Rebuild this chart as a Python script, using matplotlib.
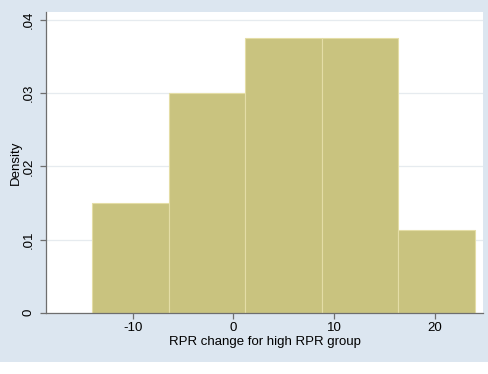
import matplotlib.pyplot as plt
from matplotlib.patches import Rectangle

plt.rcParams["font.family"] = ["Liberation Sans", "DejaVu Sans"]

# histogram: bin edges and density heights
bin_edges = [-14.0, -6.4, 1.2, 8.8, 16.4, 24.0]
densities = [0.01504, 0.03008, 0.03759, 0.03759, 0.01128]
x_ticks = [-10, 0, 10, 20]
y_ticks = [0, 0.01, 0.02, 0.03, 0.04]
y_tick_labels = ["0", ".01", ".02", ".03", ".04"]

BG = "#DCE6F0"
BAR = "#C9C37F"
EDGE = "#E4DDA6"

fig = plt.figure(figsize=(4.88, 3.74), dpi=100, facecolor="white")
fig.patches.append(Rectangle((0, 12 / 374), 1, 362 / 374, transform=fig.transFigure,
                             facecolor=BG, edgecolor="none", zorder=-10))

ax = fig.add_axes([46 / 488, 61.3 / 374, 437 / 488, 300.7 / 374])
ax.set_facecolor("white")

widths = [b - a for a, b in zip(bin_edges[:-1], bin_edges[1:])]
ax.bar(bin_edges[:-1], densities, width=widths, align="edge",
       color=BAR, edgecolor=EDGE, linewidth=0.8, zorder=2)

ax.set_xlim(-18.6, 24.8)
ax.set_ylim(0, 0.0411)
ax.set_xticks(x_ticks)
ax.set_xticklabels([str(t) for t in x_ticks])
ax.set_yticks(y_ticks)
ax.set_yticklabels(y_tick_labels, rotation=90, va="center")

ax.grid(axis="y", color="#E6EBEF", linewidth=0.9, zorder=1)
ax.set_axisbelow(True)

for side in ("top", "right"):
    ax.spines[side].set_visible(False)
for side in ("left", "bottom"):
    ax.spines[side].set_color("#6E6E6E")
    ax.spines[side].set_linewidth(0.9)

ax.tick_params(axis="both", length=4, width=0.9, color="#6E6E6E",
               labelsize=9.5, pad=3)
ax.tick_params(axis="y", pad=4)
ax.set_xlabel("RPR change for high RPR group", fontsize=9.5, labelpad=1)
ax.set_ylabel("Density", fontsize=9.5, labelpad=1)

fig.savefig("out.png", dpi=100, facecolor=fig.get_facecolor())
